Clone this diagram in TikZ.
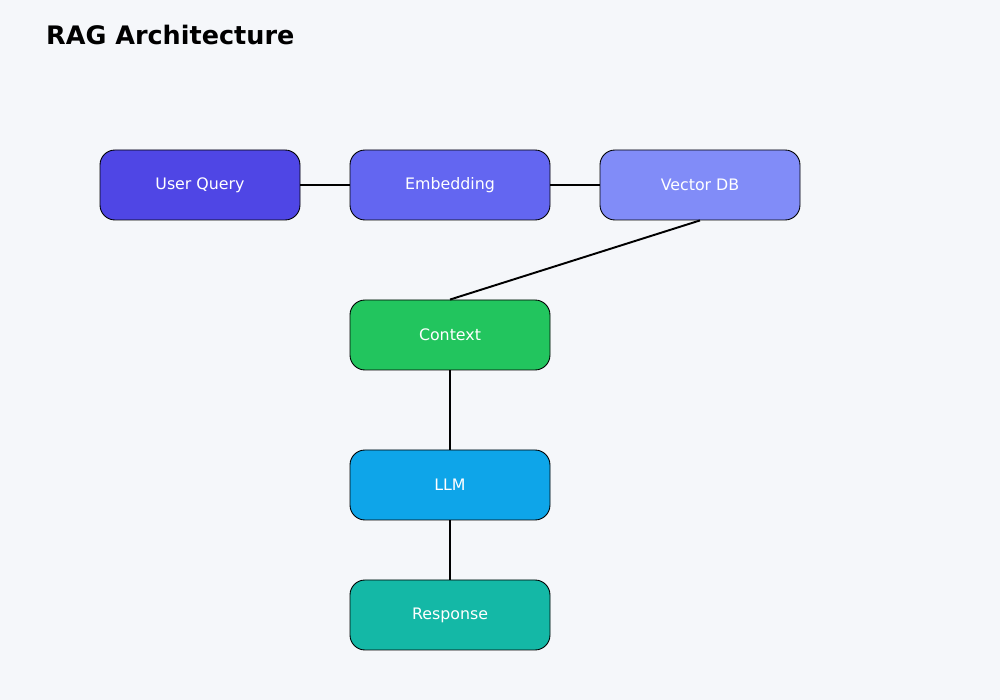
\documentclass[tikz,border=0pt]{standalone}
\usepackage{fontspec}
\setmainfont{DejaVu Sans}
\usetikzlibrary{positioning}
\definecolor{bgcol}{HTML}{F5F7FA}
\definecolor{querycol}{HTML}{4F46E5}
\definecolor{embedcol}{HTML}{6366F1}
\definecolor{vectorcol}{HTML}{818CF8}
\definecolor{contextcol}{HTML}{22C55E}
\definecolor{llmcol}{HTML}{0EA5E9}
\definecolor{respcol}{HTML}{14B8A6}

\begin{document}
\begin{tikzpicture}[node distance=5cm,
    block/.style={draw=black,line width=0.5pt,rounded corners=0.3cm,minimum width=4cm,minimum height=1.4cm,text=white,font=\fontsize{9}{11}\selectfont},
    link/.style={line width=1.1pt}]
      \fill[bgcol] (0,0) rectangle (20,14);
      \useasboundingbox (0,0) rectangle (20,14);
      \node[anchor=base west,font=\fontsize{14.5}{17}\selectfont\bfseries] (title) at (0.8,13.1) {RAG Architecture};

      \node[block,fill=querycol] (query) at (4,10.3) {User Query};
      \node[block,fill=embedcol] (embed) [right of=query] {Embedding};
      \node[block,fill=vectorcol] (vector) [right of=embed] {Vector DB};

      \node[block,fill=contextcol] (context) [below of=embed,node distance=3cm] {Context};
      \node[block,fill=llmcol] (llm) [below of=context,node distance=3cm] {LLM};
      \node[block,fill=respcol] (resp) [below of=llm,node distance=2.6cm] {Response};

      \draw[link] (query) -- (embed);
      \draw[link] (embed) -- (vector);
      \draw[link] (vector.south) -- (context.north);
      \draw[link] (context) -- (llm);
      \draw[link] (llm) -- (resp);
    \end{tikzpicture}
\end{document}
